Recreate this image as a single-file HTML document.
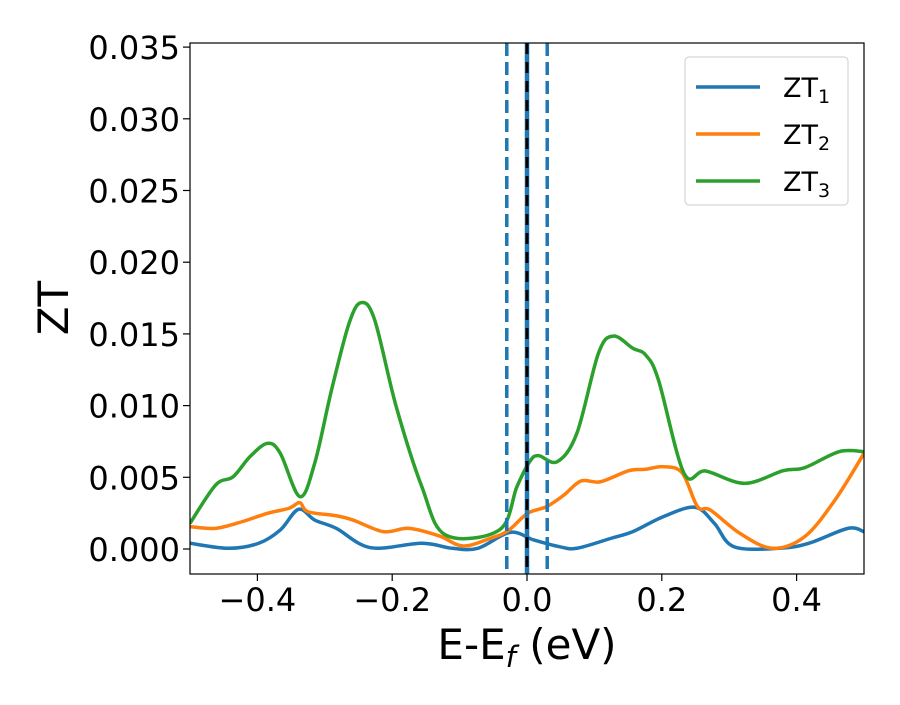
<!DOCTYPE html>
<html><head><meta charset="utf-8"><style>
body{margin:0;background:#fff;}
text{font-family:"DejaVu Sans","Liberation Sans",sans-serif;}
</style></head><body>
<svg id="chart" width="900" height="700" xmlns="http://www.w3.org/2000/svg">
<defs><clipPath id="clip"><rect x="190" y="43" width="674" height="531"/></clipPath></defs>
<rect width="900" height="700" fill="#fff"/>
<g id="series" clip-path="url(#clip)"></g>
<g id="vlines" clip-path="url(#clip)"></g>
<rect x="190" y="43" width="674" height="531" fill="none" stroke="#000" stroke-width="1.2"/>
<g id="xticks"></g>
<g id="yticks"></g>
<text x="527" y="659" font-size="42" text-anchor="middle">E-E<tspan font-style="italic" font-size="29" dy="8">f</tspan><tspan dy="-8"> (eV)</tspan></text>
<text transform="translate(68,308) rotate(-90)" font-size="42" text-anchor="middle">ZT</text>
<g>
<rect x="685" y="57" width="163" height="148" rx="4" fill="#fff" stroke="#ccc"/>
<g id="legend"></g>
</g>
</svg>
<script>
const xs1=[-0.5,-0.443,-0.398,-0.366,-0.339,-0.315,-0.283,-0.232,-0.156,-0.111,-0.073,-0.025,0.010,0.048,0.074,0.125,0.157,0.202,0.249,0.278,0.307,0.374,0.418,0.476,0.5];
const zt1=[0.0004,0.00005,0.0004,0.00133,0.00277,0.00202,0.00144,0.00009,0.0004,0.00005,0.00005,0.00116,0.00063,0.00016,0.00005,0.00075,0.00121,0.00225,0.00291,0.00179,0.00016,0.00005,0.0004,0.00144,0.00121];
const xs2=[-0.5,-0.462,-0.423,-0.385,-0.353,-0.337,-0.325,-0.283,-0.258,-0.213,-0.175,-0.130,-0.095,-0.054,-0.028,0.001,0.029,0.055,0.080,0.109,0.151,0.176,0.202,0.230,0.253,0.272,0.316,0.364,0.412,0.457,0.5];
const zt2=[0.00156,0.00144,0.0019,0.00249,0.00284,0.00323,0.0026,0.00232,0.00202,0.00121,0.00144,0.00091,0.00021,0.00075,0.00128,0.00249,0.00295,0.00377,0.00474,0.00469,0.00546,0.00556,0.00574,0.00532,0.00295,0.00272,0.00109,0.00005,0.00086,0.00342,0.00667];
const xs3=[-0.5,-0.462,-0.436,-0.411,-0.385,-0.366,-0.337,-0.315,-0.290,-0.264,-0.246,-0.226,-0.194,-0.156,-0.121,-0.041,-0.015,0.004,0.017,0.045,0.074,0.106,0.128,0.157,0.176,0.195,0.233,0.265,0.323,0.380,0.412,0.463,0.5];
const zt3=[0.00179,0.00446,0.00504,0.00644,0.00737,0.00667,0.00365,0.00598,0.01109,0.01574,0.01718,0.01597,0.00992,0.00434,0.00098,0.00133,0.00434,0.00609,0.00651,0.00609,0.00807,0.01365,0.01485,0.014,0.01353,0.01179,0.00528,0.00544,0.00458,0.00546,0.00567,0.00679,0.00679];
const xTicks=[-0.4,-0.2,0.0,0.2,0.4];
const xTickLabels=["\u22120.4","\u22120.2","0.0","0.2","0.4"];
const yTicks=[0,0.005,0.01,0.015,0.02,0.025,0.03,0.035];
const yTickLabels=["0.000","0.005","0.010","0.015","0.020","0.025","0.030","0.035"];
const vDashed=[-0.03,0.03];
const vCenter=[0.0];
const seriesNames=["1","2","3"];
const colors=["#1f77b4","#ff7f0e","#2ca02c"];
const NS="http://www.w3.org/2000/svg";
const X=v=>190+(v+0.5)*674;
const Y=v=>549-v*14340;
function mk(tag,attrs,parent){const e=document.createElementNS(NS,tag);for(const k in attrs)e.setAttribute(k,attrs[k]);parent.appendChild(e);return e;}
function pathFor(xs,ys){const p=xs.map((x,i)=>[X(x),Y(ys[i])]);let d="M"+p[0][0]+","+p[0][1];
for(let i=0;i<p.length-1;i++){const p0=p[Math.max(0,i-1)],p1=p[i],p2=p[i+1],p3=p[Math.min(p.length-1,i+2)];
const c1=[p1[0]+(p2[0]-p0[0])/6,p1[1]+(p2[1]-p0[1])/6],c2=[p2[0]-(p3[0]-p1[0])/6,p2[1]-(p3[1]-p1[1])/6];
d+=" C"+c1+" "+c2+" "+p2;}return d;}
const sg=document.getElementById('series');
[[xs1,zt1],[xs2,zt2],[xs3,zt3]].forEach((s,i)=>{const el=mk('path',{d:pathFor(s[0],s[1]),fill:'none',stroke:colors[i],'stroke-width':3.5,'stroke-linejoin':'round'},sg);

});
const vg=document.getElementById('vlines');
vDashed.forEach(v=>{const el=mk('line',{x1:X(v),x2:X(v),y1:43,y2:574,stroke:'#1f77b4','stroke-width':3.5,'stroke-dasharray':'13,6'},vg);

});
vCenter.forEach(v=>{const a=mk('line',{x1:X(v),x2:X(v),y1:43,y2:574,stroke:'#1f77b4','stroke-width':4.5},vg);


const b=mk('line',{x1:X(v),x2:X(v),y1:43,y2:574,stroke:'#000','stroke-width':3,'stroke-dasharray':'11,8'},vg);

});
const xg=document.getElementById('xticks');
xTicks.forEach((v,i)=>{const t=mk('line',{x1:X(v),x2:X(v),y1:574,y2:581,stroke:'#000','stroke-width':1.2},xg);


const l=mk('text',{x:X(v),y:611,'font-size':32,'text-anchor':'middle'},xg);l.textContent=xTickLabels[i];

});
const yg=document.getElementById('yticks');
yTicks.forEach((v,i)=>{const t=mk('line',{x1:183,x2:190,y1:Y(v),y2:Y(v),stroke:'#000','stroke-width':1.2},yg);


const l=mk('text',{x:180,y:Y(v)+12,'font-size':32,'text-anchor':'end'},yg);l.textContent=yTickLabels[i];

});
const lg=document.getElementById('legend');
seriesNames.forEach((n,i)=>{const y=87+i*47;
const ln=mk('line',{x1:696,x2:760,y1:y,y2:y,stroke:colors[i],'stroke-width':3.5},lg);


const t=mk('text',{x:783,y:y+10,'font-size':27},lg);


t.appendChild(document.createTextNode('ZT'));
const s=mk('tspan',{'font-size':19,dy:6},t);s.textContent=n;});
</script>
</body></html>
